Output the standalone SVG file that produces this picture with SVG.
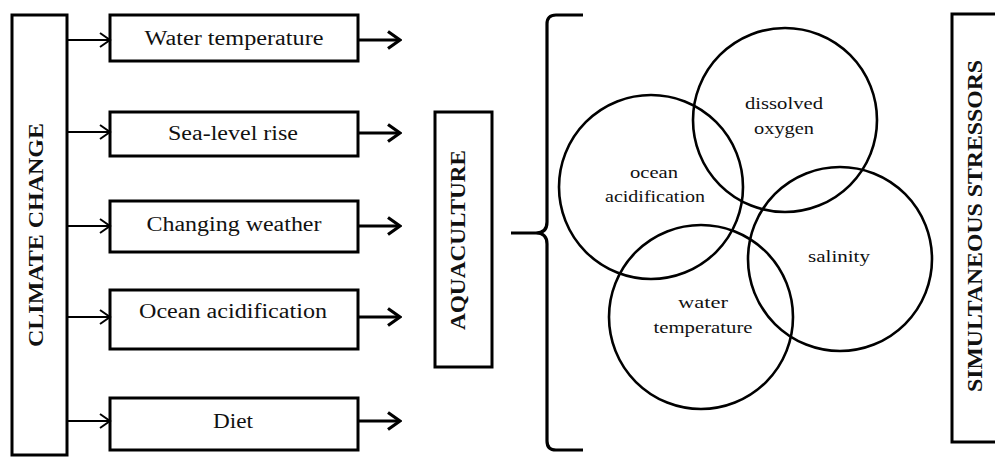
<svg xmlns="http://www.w3.org/2000/svg" width="995" height="459" viewBox="0 0 995 459">
<defs>
<style>
.box{fill:#fff;stroke:#000;stroke-width:3}
.lbl{font-family:"Liberation Serif","Times New Roman",serif;font-size:20px;fill:#111;text-anchor:middle}
.vlbl{font-family:"Liberation Serif","Times New Roman",serif;font-size:21px;font-weight:bold;fill:#111;text-anchor:middle}
.clbl{font-family:"Liberation Serif","Times New Roman",serif;font-size:17px;fill:#111;text-anchor:middle}
.thin{stroke:#000;stroke-width:2;fill:none}
.thick{stroke:#000;stroke-width:3.2;fill:none}
.circ{fill:none;stroke:#000;stroke-width:2.6}
</style>
<marker id="openS" markerWidth="14" markerHeight="16" viewBox="0 0 14 16" refX="12" refY="8" markerUnits="userSpaceOnUse" orient="auto">
<path d="M2,1 L12,8 L2,15" fill="none" stroke="#000" stroke-width="2"/>
</marker>
<marker id="openB" markerWidth="16" markerHeight="20" viewBox="0 0 16 20" refX="14" refY="10" markerUnits="userSpaceOnUse" orient="auto">
<path d="M2,1.5 L14,10 L2,18.5" fill="none" stroke="#000" stroke-width="3.2"/>
</marker>
</defs>
<rect width="995" height="459" fill="#fff"/>

<g id="climate-change">
<rect class="box" x="12" y="15" width="55" height="440"/>
<text class="vlbl" transform="translate(43,235) rotate(-90)" textLength="224" lengthAdjust="spacingAndGlyphs">CLIMATE  CHANGE</text>
</g>

<g id="water-temperature">
<rect class="box" x="110" y="15" width="248" height="46"/>
<text class="lbl" x="234" y="45" textLength="179" lengthAdjust="spacingAndGlyphs">Water temperature</text>
</g>
<g id="sea-level-rise">
<rect class="box" x="110" y="112" width="248" height="44"/>
<text class="lbl" x="233" y="140" textLength="130" lengthAdjust="spacingAndGlyphs">Sea-level rise</text>
</g>
<g id="changing-weather">
<rect class="box" x="110" y="201" width="248" height="51"/>
<text class="lbl" x="234" y="231" textLength="175" lengthAdjust="spacingAndGlyphs">Changing weather</text>
</g>
<g id="ocean-acidification">
<rect class="box" x="110" y="290" width="248" height="59"/>
<text class="lbl" x="233" y="318" textLength="188" lengthAdjust="spacingAndGlyphs">Ocean acidification</text>
</g>
<g id="diet">
<rect class="box" x="110" y="398" width="248" height="52"/>
<text class="lbl" x="233" y="428" textLength="40" lengthAdjust="spacingAndGlyphs">Diet</text>
</g>

<g id="aquaculture">
<rect class="box" x="435" y="112" width="57" height="255"/>
<text class="vlbl" transform="translate(465,240) rotate(-90)" textLength="180" lengthAdjust="spacingAndGlyphs">AQUACULTURE</text>
</g>

<g id="brace">
<path class="thick" d="M583,15 L556,15 Q547,15 547,24 L547,222 Q547,233 536,233 L511,233 M536,233 Q547,233 547,244 L547,441 Q547,450 556,450 L583,450"/>
</g>

<g id="stressor-circles">
<circle class="circ" cx="651" cy="187" r="92"/>
<circle class="circ" cx="785" cy="120" r="92"/>
<circle class="circ" cx="840" cy="259" r="92"/>
<circle class="circ" cx="701" cy="317" r="92"/>
<text class="clbl" x="654" y="178" textLength="48" lengthAdjust="spacingAndGlyphs">ocean</text>
<text class="clbl" x="655" y="202" textLength="100" lengthAdjust="spacingAndGlyphs">acidification</text>
<text class="clbl" x="784" y="109" textLength="78" lengthAdjust="spacingAndGlyphs">dissolved</text>
<text class="clbl" x="784" y="134" textLength="60" lengthAdjust="spacingAndGlyphs">oxygen</text>
<text class="clbl" x="839" y="262" textLength="62" lengthAdjust="spacingAndGlyphs">salinity</text>
<text class="clbl" x="703" y="308" textLength="50" lengthAdjust="spacingAndGlyphs">water</text>
<text class="clbl" x="703" y="333" textLength="99" lengthAdjust="spacingAndGlyphs">temperature</text>
</g>

<g id="simultaneous-stressors">
<rect class="box" x="952" y="14" width="60" height="428"/>
<text class="vlbl" transform="translate(982,226) rotate(-90)" textLength="332" lengthAdjust="spacingAndGlyphs">SIMULTANEOUS  STRESSORS</text>
</g>

<g id="connectors">
<line class="thin" x1="67" y1="40" x2="110" y2="40" marker-end="url(#openS)"/>
<line class="thin" x1="67" y1="132" x2="110" y2="132" marker-end="url(#openS)"/>
<line class="thin" x1="67" y1="226" x2="110" y2="226" marker-end="url(#openS)"/>
<line class="thin" x1="67" y1="317" x2="110" y2="317" marker-end="url(#openS)"/>
<line class="thin" x1="67" y1="421" x2="110" y2="421" marker-end="url(#openS)"/>
<line class="thick" x1="358" y1="40" x2="400" y2="40" marker-end="url(#openB)"/>
<line class="thick" x1="358" y1="133" x2="400" y2="133" marker-end="url(#openB)"/>
<line class="thick" x1="358" y1="226" x2="400" y2="226" marker-end="url(#openB)"/>
<line class="thick" x1="358" y1="317" x2="400" y2="317" marker-end="url(#openB)"/>
<line class="thick" x1="358" y1="421" x2="400" y2="421" marker-end="url(#openB)"/>
</g>
</svg>
